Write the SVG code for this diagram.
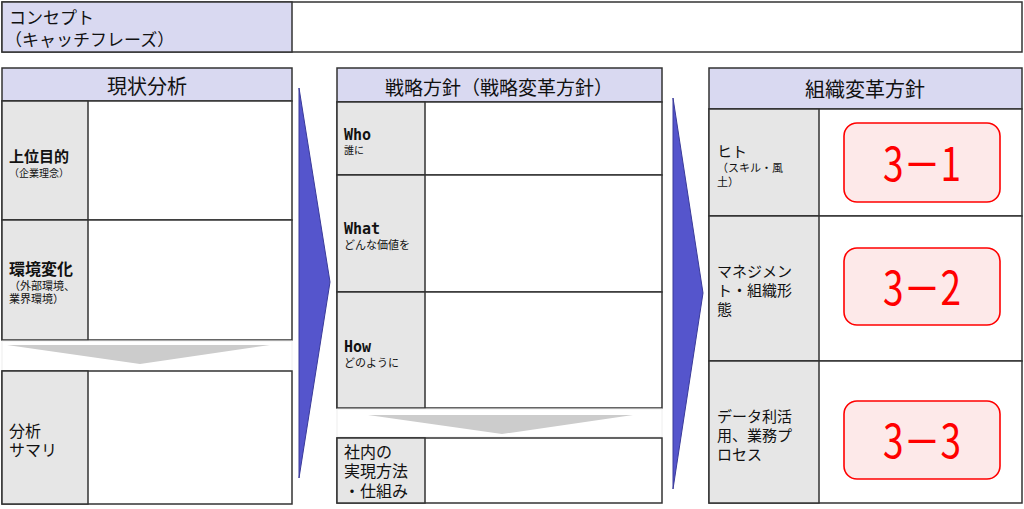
<svg xmlns="http://www.w3.org/2000/svg" width="1024" height="509" viewBox="0 0 1024 509">
<style>
.b{stroke:#333;stroke-width:1.5}
.h{fill:#d9d9f1}
.l{fill:#e6e6e6}
.w{fill:#fff}
.t{font-family:"Noto Sans CJK JP","Noto Sans",sans-serif;fill:#111}
.hd{font-family:"Noto Sans CJK JP","Noto Sans",sans-serif;fill:#111;text-anchor:middle}
.m{font-family:"DejaVu Sans Mono",monospace;font-weight:bold;fill:#111}
.r{fill:#fde9e9;stroke:#f00;stroke-width:1.6}
.rt{font-family:"Noto Sans CJK JP","Noto Sans",sans-serif;fill:#f00;font-size:46px}
.arr{fill:#5555cc;stroke:#3a3a99;stroke-width:1}
.chev{fill:#cccccc}
</style>
<rect width="1024" height="509" fill="#fff"/>
<g id="concept">
<rect class="b w" x="2" y="2" width="1020" height="50"/>
<rect class="b h" x="2" y="2" width="290" height="50"/>
<text class="t" x="9" y="24" font-size="17">コンセプト</text>
<text class="t" x="5" y="46" font-size="17">（キャッチフレーズ）</text>
</g>
<g id="genjo">
<rect class="b h" x="2" y="68" width="290" height="33"/>
<text class="hd" x="147" y="94" font-size="20">現状分析</text>
<rect class="b w" x="2" y="101" width="290" height="119"/>
<rect class="b l" x="2" y="101" width="86" height="119"/>
<text class="t" x="9" y="162" font-size="15" font-weight="bold">上位目的</text>
<text class="t" x="9" y="177" font-size="10">（企業理念）</text>
<rect class="b w" x="2" y="220" width="290" height="120"/>
<rect class="b l" x="2" y="220" width="86" height="120"/>
<text class="t" x="9" y="275" font-size="16" font-weight="bold">環境変化</text>
<text class="t" x="9" y="290" font-size="11">（外部環境、</text>
<text class="t" x="9" y="303" font-size="11">業界環境）</text>
<rect x="2" y="341" width="290" height="30" fill="#fff" stroke="#eee"/>
<polygon class="chev" points="7,345 270,345 140,364"/>
<rect class="b w" x="2" y="371" width="290" height="133"/>
<rect class="b l" x="2" y="371" width="86" height="133"/>
<text class="t" x="9" y="437" font-size="16">分析</text>
<text class="t" x="9" y="456" font-size="16">サマリ</text>
</g>
<g id="connectors">
<polygon class="arr" points="299,88 330,282 299,478"/>
<polygon class="arr" points="673,98 703,293 673,489"/>
</g>
<g id="senryaku">
<rect class="b h" x="337" y="68" width="325" height="34"/>
<text class="hd" x="499" y="95" font-size="19">戦略方針（戦略変革方針）</text>
<rect class="b w" x="337" y="102" width="325" height="73"/>
<rect class="b l" x="337" y="102" width="88" height="73"/>
<text class="m" x="344" y="140" font-size="15">Who</text>
<text class="t" x="344" y="154" font-size="10">誰に</text>
<rect class="b w" x="337" y="175" width="325" height="117"/>
<rect class="b l" x="337" y="175" width="88" height="117"/>
<text class="m" x="344" y="234" font-size="15">What</text>
<text class="t" x="344" y="249" font-size="11">どんな価値を</text>
<rect class="b w" x="337" y="292" width="325" height="116"/>
<rect class="b l" x="337" y="292" width="88" height="116"/>
<text class="m" x="344" y="352" font-size="15">How</text>
<text class="t" x="344" y="367" font-size="11">どのように</text>
<rect x="337" y="409" width="325" height="28" fill="#fff" stroke="#eee"/>
<polygon class="chev" points="368,415 633,415 502,434"/>
<rect class="b w" x="337" y="438" width="325" height="65"/>
<rect class="b l" x="337" y="438" width="88" height="65"/>
<text class="t" x="344" y="458" font-size="16">社内の</text>
<text class="t" x="344" y="477" font-size="16">実現方法</text>
<text class="t" x="344" y="497" font-size="16">・仕組み</text>
</g>
<g id="soshiki">
<rect class="b h" x="709" y="68" width="313" height="41"/>
<text class="hd" x="865" y="97" font-size="20">組織変革方針</text>
<rect class="b w" x="709" y="109" width="313" height="107"/>
<rect class="b l" x="709" y="109" width="110" height="107"/>
<text class="t" x="717" y="157" font-size="15">ヒト</text>
<text class="t" x="717" y="172" font-size="11">（スキル・風</text>
<text class="t" x="717" y="186" font-size="11">土）</text>
<rect class="r" x="844" y="123" width="156" height="79" rx="13"/>
<text class="rt" x="922" y="181" text-anchor="middle" textLength="78" lengthAdjust="spacingAndGlyphs">3－1</text>
<rect class="b w" x="709" y="216" width="313" height="145"/>
<rect class="b l" x="709" y="216" width="110" height="145"/>
<text class="t" x="717" y="277" font-size="15">マネジメン</text>
<text class="t" x="717" y="296" font-size="15">ト・組織形</text>
<text class="t" x="717" y="315" font-size="15">態</text>
<rect class="r" x="844" y="248" width="156" height="77" rx="13"/>
<text class="rt" x="922" y="305" text-anchor="middle" textLength="78" lengthAdjust="spacingAndGlyphs">3－2</text>
<rect class="b w" x="709" y="361" width="313" height="142"/>
<rect class="b l" x="709" y="361" width="110" height="142"/>
<text class="t" x="717" y="422" font-size="15">データ利活</text>
<text class="t" x="717" y="441" font-size="15">用、業務プ</text>
<text class="t" x="717" y="460" font-size="15">ロセス</text>
<rect class="r" x="844" y="401" width="156" height="78" rx="13"/>
<text class="rt" x="922" y="458" text-anchor="middle" textLength="78" lengthAdjust="spacingAndGlyphs">3－3</text>
</g>
</svg>
